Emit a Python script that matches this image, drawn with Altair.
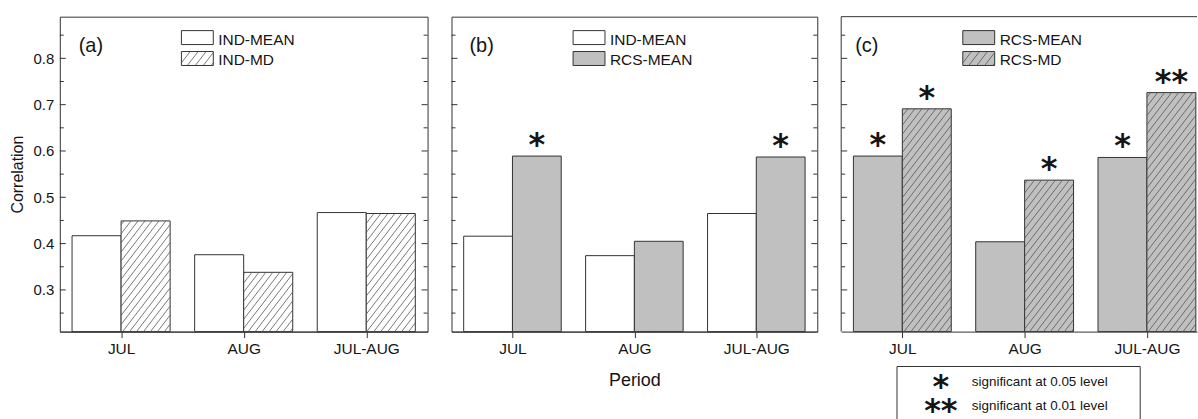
import json
import math
import altair as alt
import pandas as pd

# ---------------- data ----------------
periods = ["JUL", "AUG", "JUL-AUG"]

a_series = ["IND-MEAN", "IND-MD"]
a_ind_mean = [0.417, 0.376, 0.467]
a_ind_md = [0.449, 0.338, 0.465]
a_sig_mean = ["", "", ""]
a_sig_md = ["", "", ""]

b_series = ["IND-MEAN", "RCS-MEAN"]
b_ind_mean = [0.416, 0.374, 0.465]
b_rcs_mean = [0.589, 0.405, 0.587]
b_sig_ind = ["", "", ""]
b_sig_rcs = ["*", "", "*"]

c_series = ["RCS-MEAN", "RCS-MD"]
c_rcs_mean = [0.589, 0.404, 0.586]
c_rcs_md = [0.691, 0.537, 0.726]
c_sig_mean = ["*", "", "*"]
c_sig_md = ["*", "*", "**"]

y_major = [0.3, 0.4, 0.5, 0.6, 0.7, 0.8]
y_minor = [0.25, 0.35, 0.45, 0.55, 0.65, 0.75, 0.85]

sig_marks = ["*", "**"]
sig_labels = ["significant at 0.05 level", "significant at 0.01 level"]

# ---------------- style ----------------
SANS = "Liberation Sans, Arial, sans-serif"
STARFONT = "DejaVu Sans"
INK = "#151515"
EDGE = "#333333"
HATCH = "#555555"
FILL = {"IND-MEAN": "#ffffff", "IND-MD": "#ffffff", "RCS-MEAN": "#c0c0c0", "RCS-MD": "#c0c0c0"}
HATCHED = ["IND-MD", "RCS-MD"]
Y0, Y1 = 0.21, 0.89
H = 316
SLOPE = 1.3
GAP = 7.0

fill_scale = alt.Scale(domain=list(FILL.keys()), range=list(FILL.values()))
yscale = alt.Scale(domain=[Y0, Y1], nice=False, zero=False)


def hatch(X0, X1, B, T, gap=GAP):
    """diagonal hatch segments inside rectangle [X0,X1]x[B,T] (y upward)."""
    segs = []
    c = math.floor((X0 - (T - B) / SLOPE) / gap) * gap
    while c <= X1:
        ya = max(B, B + SLOPE * (X0 - c))
        yb = min(T, B + SLOPE * (X1 - c))
        if yb - ya > 0.6:
            segs.append((c + (ya - B) / SLOPE, ya, c + (yb - B) / SLOPE, yb))
        c += gap
    return segs


def panel(tag, tag_x, names, series_vals, series_sigs, width, xmax, show_y,
          x_title, right_ticks, framed, extra=()):
    sx = width / xmax
    sy = H / (Y1 - Y0)
    xscale = alt.Scale(domain=[0, xmax], nice=False, zero=False)

    rows = []
    for si, (name, vals, sigs) in enumerate(zip(names, series_vals, series_sigs)):
        for pi, (p, v, s) in enumerate(zip(periods, vals, sigs)):
            x0 = pi + 0.1 + 0.4 * si
            rows.append({"period": p, "series": name, "value": v, "sig": s,
                         "x0": x0, "x1": x0 + 0.4, "xc": x0 + 0.2})
    bars = pd.DataFrame(rows)

    axis_kw = dict(values=[i + 0.5 for i in range(len(periods))],
                   labelExpr=f"{json.dumps(periods)}[floor(datum.value)]",
                   tickSize=6, tickColor=EDGE, domainColor=EDGE, grid=False,
                   labelFont=SANS, labelFontSize=15.5, labelColor=INK, labelPadding=4,
                   title=x_title)
    if x_title:
        axis_kw.update(titleFont=SANS, titleFontSize=18, titleFontWeight="normal",
                       titleColor=INK, titlePadding=15)
    xaxis = alt.Axis(**axis_kw)
    if show_y:
        yaxis = alt.Axis(values=y_major, format=".1f", ticks=False, domain=False, grid=False,
                         labelFont=SANS, labelFontSize=15, labelColor=INK, labelPadding=6,
                         title="Correlation", titleFont=SANS, titleFontSize=16,
                         titleFontWeight="normal", titleColor=INK, titlePadding=8)
    else:
        yaxis = None

    def X(field):
        return alt.X(field, scale=xscale, axis=xaxis)

    def Y(field):
        return alt.Y(field, scale=yscale, axis=yaxis)

    layers = []
    layers.append(alt.Chart(bars).mark_rect(stroke=EDGE, strokeWidth=1).encode(
        x=X("x0:Q"), x2="x1:Q",
        y=Y("value:Q"), y2=alt.datum(Y0),
        fill=alt.Fill("series:N", scale=fill_scale, legend=None),
    ))

    hrows = []
    for r in rows:
        if r["series"] in HATCHED:
            for xa, ya, xb, yb in hatch(r["x0"] * sx, r["x1"] * sx, 0, (r["value"] - Y0) * sy):
                hrows.append({"hx0": xa / sx, "hx1": xb / sx,
                              "hy0": Y0 + ya / sy, "hy1": Y0 + yb / sy})
    if hrows:
        layers.append(alt.Chart(pd.DataFrame(hrows)).mark_rule(stroke=HATCH, strokeWidth=0.8).encode(
            x=X("hx0:Q"), x2="hx1:Q", y=Y("hy0:Q"), y2="hy1:Q"))

    layers.append(alt.Chart(bars).transform_filter("datum.sig != ''").mark_text(
        font=STARFONT, fontWeight="bold", fontSize=32, baseline="alphabetic", dy=-1, color=INK
    ).encode(x=X("xc:Q"), y=Y("value:Q"), text="sig:N"))

    tmaj = pd.DataFrame({"t": y_major})
    tmin = pd.DataFrame({"t": y_minor})

    def ticks(df, xa, xb):
        return alt.Chart(df).mark_rule(stroke=EDGE, strokeWidth=1).encode(
            x=alt.value(xa), x2=alt.value(xb), y=Y("t:Q"))

    layers += [ticks(tmaj, 0, 6), ticks(tmin, 0, 4)]
    if right_ticks:
        layers += [ticks(tmaj, width - 6, width), ticks(tmin, width - 4, width)]

    # in-panel legend
    leg = pd.DataFrame({"series": names, "label": names, "row": list(range(len(names)))})
    leg["ly0"] = 14 + 21 * leg["row"]
    leg["ly1"] = leg["ly0"] + 14
    layers.append(alt.Chart(leg).mark_rect(stroke=EDGE, strokeWidth=1).encode(
        x=alt.value(122), x2=alt.value(154),
        y=alt.Y("ly0:Q", scale=None), y2="ly1:Q",
        fill=alt.Fill("series:N", scale=fill_scale, legend=None)))
    lh = []
    for _, r in leg.iterrows():
        if r["series"] in HATCHED:
            for xa, ya, xb, yb in hatch(122, 154, -r["ly1"], -r["ly0"], gap=8.0):
                lh.append({"lx0": xa, "lx1": xb, "lyA": -ya, "lyB": -yb})
    if lh:
        layers.append(alt.Chart(pd.DataFrame(lh)).mark_rule(stroke=HATCH, strokeWidth=0.8).encode(
            x=alt.X("lx0:Q", scale=None), x2="lx1:Q",
            y=alt.Y("lyA:Q", scale=None), y2="lyB:Q"))
    layers.append(alt.Chart(leg).mark_text(
        font=SANS, fontSize=15.5, align="left", baseline="alphabetic", color=INK
    ).encode(x=alt.value(159), y=alt.Y("ly1:Q", scale=None), text="label:N"))

    layers.append(alt.Chart(pd.DataFrame({"tag": [tag]})).mark_text(
        font=SANS, fontSize=20, align="left", baseline="alphabetic", color=INK
    ).encode(x=alt.value(tag_x), y=alt.value(35), text="tag:N"))

    if not framed:
        one = pd.DataFrame({"k": [0]})
        layers.append(alt.Chart(one).mark_rule(stroke=EDGE, strokeWidth=1).encode(
            x=alt.value(0), x2=alt.value(width), y=alt.value(0)))
        layers.append(alt.Chart(one).mark_rule(stroke=EDGE, strokeWidth=1).encode(
            x=alt.value(0), y=alt.value(0), y2=alt.value(H)))

    layers += list(extra)
    ch = alt.layer(*layers).properties(width=width, height=H)
    if not framed:
        ch = ch.properties(view=alt.ViewBackground(stroke="transparent"))
    return ch


# significance key below panel (c)
one = pd.DataFrame({"k": [0]})
box_top, box_bot, box_l, box_r = 351, 404, 56, 300
sig_box = [
    alt.Chart(one).mark_rule(stroke=EDGE, strokeWidth=1).encode(
        x=alt.value(box_l), x2=alt.value(box_r), y=alt.value(box_top)),
    alt.Chart(one).mark_rule(stroke=EDGE, strokeWidth=1).encode(
        x=alt.value(box_l), y=alt.value(box_top), y2=alt.value(box_bot)),
    alt.Chart(one).mark_rule(stroke=EDGE, strokeWidth=1).encode(
        x=alt.value(box_r), y=alt.value(box_top), y2=alt.value(box_bot)),
]
sig_df = pd.DataFrame({"mark": sig_marks, "label": sig_labels, "row": [0, 1]})
sig_df["ty"] = 371 + 24 * sig_df["row"]
sig_df["sy"] = 382 + 23.5 * sig_df["row"]
sig_box.append(alt.Chart(sig_df).mark_text(
    font=STARFONT, fontWeight="bold", fontSize=32, align="center", baseline="alphabetic", color=INK
).encode(x=alt.value(100), y=alt.Y("sy:Q", scale=None), text="mark:N"))
sig_box.append(alt.Chart(sig_df).mark_text(
    font=SANS, fontSize=13.5, align="left", baseline="alphabetic", color=INK
).encode(x=alt.value(131), y=alt.Y("ty:Q", scale=None), text="label:N"))

pa = panel("(a)", 19, a_series, [a_ind_mean, a_ind_md], [a_sig_mean, a_sig_md],
           369, 3.0, True, None, True, True)
pb = panel("(b)", 18, b_series, [b_ind_mean, b_rcs_mean], [b_sig_ind, b_sig_rcs],
           367, 3.0, False, "Period", True, True)
pc = panel("(c)", 14, c_series, [c_rcs_mean, c_rcs_md], [c_sig_mean, c_sig_md],
           357, 357 / 122.7, False, None, False, False, extra=sig_box)

chart = alt.hconcat(pa, pb, pc, spacing=22).resolve_scale(x="independent").properties(
    padding={"left": 8, "top": 15, "right": 0, "bottom": 0},
    background="white",
).configure_view(stroke=EDGE, strokeWidth=1)

chart.save("out.html", embed_options={"renderer": "svg", "actions": False})
